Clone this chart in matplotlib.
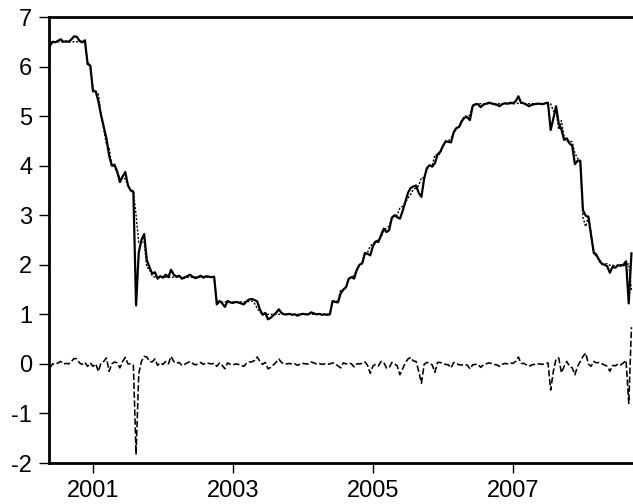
import matplotlib
matplotlib.use("Agg")
import matplotlib.pyplot as plt
import numpy as np

plt.rcParams['font.family'] = ['Liberation Sans', 'DejaVu Sans']
plt.rcParams['axes.unicode_minus'] = False

# biweekly observations, first one in mid 2000
start = 2000.38
step = 1 / 26

actual = [
    6.42, 6.50, 6.49, 6.52, 6.55, 6.50, 6.51, 6.50, 6.55, 6.61,
    6.60, 6.52, 6.49, 6.53, 6.05, 6.02, 5.50, 5.50, 5.30, 5.02,
    4.78, 4.55, 4.20, 4.00, 4.02, 3.88, 3.67, 3.78, 3.87, 3.60,
    3.50, 3.47, 1.18, 2.25, 2.50, 2.62, 2.09, 1.95, 1.82, 1.85,
    1.72, 1.77, 1.74, 1.80, 1.75, 1.90, 1.80, 1.76, 1.78, 1.72,
    1.74, 1.77, 1.80, 1.76, 1.73, 1.75, 1.78, 1.74, 1.77, 1.76,
    1.75, 1.76, 1.20, 1.27, 1.22, 1.15, 1.27, 1.24, 1.23, 1.25,
    1.24, 1.22, 1.20, 1.26, 1.30, 1.31, 1.29, 1.26, 1.10, 0.99,
    1.03, 0.90, 0.93, 0.98, 1.03, 1.10, 1.03, 1.00, 1.00, 1.01,
    0.99, 1.00, 0.97, 1.00, 1.01, 1.00, 1.00, 1.04, 1.02, 1.00,
    1.01, 0.99, 1.00, 0.99, 1.00, 1.27, 1.25, 1.24, 1.42, 1.50,
    1.55, 1.72, 1.75, 1.72, 1.90, 2.00, 2.03, 2.24, 2.22, 2.19,
    2.38, 2.47, 2.46, 2.60, 2.73, 2.66, 2.70, 2.95, 3.00, 2.96,
    2.93, 3.08, 3.27, 3.45, 3.55, 3.58, 3.60, 3.45, 3.37, 3.74,
    3.95, 4.01, 3.98, 4.05, 4.23, 4.28, 4.40, 4.49, 4.48, 4.47,
    4.68, 4.76, 4.78, 4.90, 4.97, 4.98, 4.92, 5.20, 5.24, 5.24,
    5.18, 5.23, 5.25, 5.27, 5.26, 5.24, 5.23, 5.20, 5.24, 5.26,
    5.25, 5.27, 5.26, 5.30, 5.40, 5.27, 5.26, 5.23, 5.20, 5.23,
    5.24, 5.25, 5.25, 5.24, 5.26, 5.27, 4.72, 4.95, 5.20, 4.85,
    4.73, 4.52, 4.55, 4.45, 4.40, 4.03, 4.10, 4.10, 3.10, 2.99,
    2.97, 2.60, 2.25, 2.20, 2.10, 2.02, 2.00, 1.97, 1.84, 1.96,
    1.94, 1.99, 1.98, 2.00, 2.07, 1.22, 2.23,
]

fitted = [
    6.50, 6.50, 6.50, 6.50, 6.50, 6.50, 6.50, 6.50, 6.50, 6.50,
    6.50, 6.50, 6.50, 6.50, 6.10, 6.00, 5.55, 5.50, 5.45, 5.00,
    4.73, 4.43, 4.35, 4.00, 3.98, 3.86, 3.75, 3.73, 3.74, 3.60,
    3.50, 3.50, 3.00, 2.45, 2.45, 2.47, 1.95, 1.90, 1.78, 1.75,
    1.75, 1.75, 1.75, 1.75, 1.75, 1.75, 1.75, 1.75, 1.75, 1.75,
    1.75, 1.75, 1.75, 1.75, 1.75, 1.75, 1.75, 1.75, 1.75, 1.75,
    1.75, 1.75, 1.25, 1.25, 1.25, 1.25, 1.25, 1.25, 1.25, 1.25,
    1.25, 1.25, 1.25, 1.25, 1.26, 1.27, 1.22, 1.12, 1.05, 1.00,
    1.00, 1.00, 1.00, 1.00, 1.00, 1.00, 1.00, 1.00, 1.00, 1.00,
    1.00, 1.00, 1.00, 1.00, 1.00, 1.00, 1.00, 1.00, 1.00, 1.00,
    1.00, 1.00, 1.00, 1.00, 1.00, 1.25, 1.25, 1.28, 1.50, 1.48,
    1.55, 1.70, 1.75, 1.78, 1.90, 2.00, 2.02, 2.20, 2.25, 2.38,
    2.42, 2.48, 2.50, 2.55, 2.70, 2.74, 2.78, 2.92, 3.00, 3.00,
    3.15, 3.18, 3.25, 3.35, 3.42, 3.52, 3.55, 3.60, 3.76, 3.75,
    3.92, 4.00, 4.00, 4.22, 4.20, 4.25, 4.40, 4.50, 4.50, 4.55,
    4.65, 4.75, 4.80, 4.92, 5.00, 5.00, 5.02, 5.22, 5.25, 5.25,
    5.25, 5.25, 5.25, 5.25, 5.25, 5.25, 5.25, 5.25, 5.25, 5.25,
    5.25, 5.25, 5.25, 5.25, 5.26, 5.26, 5.25, 5.25, 5.25, 5.25,
    5.25, 5.25, 5.25, 5.25, 5.25, 5.25, 5.25, 5.10, 5.10, 4.73,
    4.91, 4.57, 4.50, 4.50, 4.48, 4.25, 4.15, 4.05, 2.95, 2.77,
    2.97, 2.65, 2.20, 2.18, 2.07, 2.02, 2.02, 2.02, 1.99, 1.99,
    1.98, 1.99, 2.00, 1.98, 2.00, 2.02, 1.49,
]

residual = [
    -0.08, 0.00, -0.01, 0.02, 0.05, 0.00, 0.01, 0.00, 0.05, 0.11,
    0.10, 0.02, -0.01, 0.03, -0.05, 0.02, -0.05, 0.00, -0.15, 0.02,
    0.05, 0.12, -0.15, 0.00, 0.04, 0.02, -0.08, 0.05, 0.13, 0.00,
    0.00, -0.03, -1.82, -0.20, 0.05, 0.15, 0.14, 0.05, 0.04, 0.10,
    -0.03, 0.02, -0.01, 0.05, 0.00, 0.15, 0.05, 0.01, 0.03, -0.03,
    -0.01, 0.02, 0.05, 0.01, -0.02, 0.00, 0.03, -0.01, 0.02, 0.01,
    0.00, 0.01, -0.05, 0.02, -0.03, -0.10, 0.02, -0.01, -0.02, 0.00,
    -0.01, -0.03, -0.05, 0.01, 0.04, 0.04, 0.07, 0.14, 0.05, -0.01,
    0.03, -0.10, -0.07, -0.02, 0.03, 0.10, 0.03, 0.00, 0.00, 0.01,
    -0.01, 0.00, -0.03, 0.00, 0.01, 0.00, 0.00, 0.04, 0.02, 0.00,
    0.01, -0.01, 0.00, -0.01, 0.00, 0.02, 0.00, -0.04, -0.08, 0.02,
    0.00, 0.02, 0.00, -0.06, 0.00, 0.00, 0.01, 0.04, -0.03, -0.19,
    -0.04, -0.01, -0.04, 0.05, 0.03, -0.08, -0.08, 0.03, 0.00, -0.04,
    -0.22, -0.10, 0.02, 0.10, 0.13, 0.06, 0.05, -0.15, -0.39, -0.01,
    0.03, 0.01, -0.02, -0.17, 0.03, 0.03, 0.00, -0.01, -0.02, -0.08,
    0.03, 0.01, -0.02, -0.02, -0.03, -0.02, -0.10, -0.02, -0.01, -0.01,
    -0.07, -0.02, 0.00, 0.02, 0.01, -0.01, -0.02, -0.05, -0.01, 0.01,
    0.00, 0.02, 0.01, 0.05, 0.14, 0.01, 0.01, -0.02, -0.05, -0.02,
    -0.01, 0.00, 0.00, -0.01, 0.01, 0.02, -0.53, -0.15, 0.10, 0.12,
    -0.18, -0.05, 0.05, -0.05, -0.08, -0.22, -0.05, 0.05, 0.15, 0.22,
    0.00, -0.05, 0.05, 0.02, 0.03, 0.00, -0.02, -0.05, -0.15, -0.03,
    -0.04, 0.00, -0.02, 0.02, 0.07, -0.80, 0.74,
]

year_ticks = [2001, 2003, 2005, 2007]
y_ticks = [-2, -1, 0, 1, 2, 3, 4, 5, 6, 7]

t = start + step * np.arange(len(actual))

fig = plt.figure(figsize=(6.33, 5.04), dpi=100)
ax = fig.add_axes([49 / 633, 1 - 463 / 504, 1 - 49 / 633, (463 - 17) / 504])

ax.plot(t, residual, color='black', lw=1.15, ls=(0, (4, 1.6)))
ax.plot(t, fitted, color='black', lw=1.0, ls=(0, (1.5, 1.2)))
ax.plot(t, actual, color='black', lw=1.6)

ax.set_xlim(2000.367, 2008.71)
ax.set_ylim(-2, 7)
ax.set_xticks(year_ticks)
ax.set_xticklabels([str(y) for y in year_ticks])
ax.set_yticks(y_ticks)

for side in ['left', 'top', 'bottom']:
    ax.spines[side].set_linewidth(2.0)
ax.spines['right'].set_visible(False)

ax.tick_params(axis='both', direction='out', width=1.0, labelsize=17)
ax.tick_params(axis='y', length=7, pad=5)
ax.tick_params(axis='x', length=7, pad=5)

fig.savefig('out.png', dpi=100)
